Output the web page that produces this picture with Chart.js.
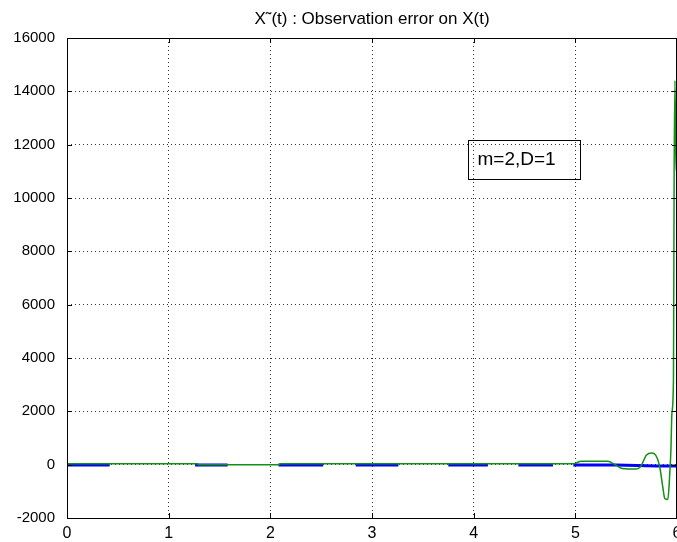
<!DOCTYPE html>
<html>
<head>
<meta charset="utf-8">
<script src="https://cdn.jsdelivr.net/npm/chart.js@4/dist/chart.umd.min.js"></script>
<style>
  html, body { margin: 0; padding: 0; background: #fff; }
  #wrap { width: 677px; height: 542px; }
</style>
</head>
<body>
<div id="wrap"><canvas id="err-chart" width="677" height="542"></canvas></div>
<script>
// values
const titleText = 'X\u02DC(t) : Observation error on X(t)';
const noteText = 'm=2,D=1';
const noteBox = { t0: 3.94, t1: 5.045, y0: 12170, y1: 10710 };

const xTicks = [0, 1, 2, 3, 4, 5, 6];
const yTicks = [-2000, 0, 2000, 4000, 6000, 8000, 10000, 12000, 14000, 16000];

// green curve: observation error
const greenT = [0, 1.28, 1.30, 2.08, 2.10, 4.98, 5.06, 5.32, 5.39, 5.46, 5.60, 5.64, 5.70, 5.75, 5.79, 5.83,
                5.86, 5.88, 5.91, 5.925, 5.94, 5.95, 5.965, 5.972, 5.98, 5.99, 6.0];
const greenY = [30, 30, 0, 0, 30, 30, 130, 130, 0, -140, -160, -80, 360, 440, 360, -80,
                -830, -1270, -1310, -600, 540, 1930, 3170, 11000, 14400, 11000, 11000];

// blue curve: shown in pieces near zero (null = gap)
const blueT = [0, 0.42, 0.43, 1.26, 1.58, 1.59, 2.08, 2.52, 2.53, 2.84, 3.26, 3.27, 3.75, 4.14, 4.15,
               4.44, 4.78, 4.79, 4.98, 5.4, 5.8, 6.0];
const blueY = [-15, -15, null, -15, -15, null, -15, -15, null, -15, -15, null, -15, -15, null,
               -15, -15, null, -15, -15, -50, -50];

function toPoints(ts, ys) {
    return ts.map((t, i) => ({ x: t, y: ys[i] }));
}

const fontFamily = '"Liberation Sans", Arial, sans-serif';

// box, inward ticks, title and the note
const framePlugin = {
    id: 'frame',
    afterDraw(chart) {
        const ctx = chart.ctx;
        const a = chart.chartArea;
        const xs = chart.scales.x;
        const ys = chart.scales.y;
        ctx.save();
        ctx.strokeStyle = '#000';
        ctx.lineWidth = 1;
        ctx.beginPath();
        xTicks.forEach(v => {
            const px = Math.round(xs.getPixelForValue(v)) + 0.5;
            ctx.moveTo(px, a.bottom); ctx.lineTo(px, a.bottom - 5);
            ctx.moveTo(px, a.top); ctx.lineTo(px, a.top + 5);
        });
        yTicks.forEach(v => {
            const py = Math.round(ys.getPixelForValue(v)) + 0.5;
            ctx.moveTo(a.left, py); ctx.lineTo(a.left + 5, py);
            ctx.moveTo(a.right, py); ctx.lineTo(a.right - 5, py);
        });
        ctx.stroke();
        ctx.strokeRect(Math.round(a.left) + 0.5, Math.round(a.top) + 0.5,
                       Math.round(a.right - a.left) - 1, Math.round(a.bottom - a.top));

        // note box
        const bx0 = Math.round(xs.getPixelForValue(noteBox.t0)) + 0.5;
        const bx1 = Math.round(xs.getPixelForValue(noteBox.t1)) + 0.5;
        const by0 = Math.round(ys.getPixelForValue(noteBox.y0)) + 0.5;
        const by1 = Math.round(ys.getPixelForValue(noteBox.y1)) + 0.5;
        ctx.strokeRect(bx0, by0, bx1 - bx0, by1 - by0);
        ctx.fillStyle = '#000';
        ctx.font = '19px ' + fontFamily;
        ctx.textAlign = 'left';
        ctx.textBaseline = 'middle';
        ctx.fillText(noteText, bx0 + 9, (by0 + by1) / 2);

        // title over the plot area
        ctx.textAlign = 'center';
        ctx.textBaseline = 'middle';
        ctx.font = '17px ' + fontFamily;
        ctx.fillText(titleText, (a.left + a.right) / 2, 19);
        ctx.restore();
    }
};

const ctx = document.getElementById('err-chart').getContext('2d');
const errChart = new Chart(ctx, {
    type: 'line',
    data: {
        datasets: [{
            label: 'green',
            data: toPoints(greenT, greenY),
            borderColor: '#119011',
            borderWidth: 1.5,
            pointRadius: 0,
            cubicInterpolationMode: 'monotone',
            order: 0,
        }, {
            label: 'blue',
            data: toPoints(blueT, blueY),
            borderColor: '#0000ff',
            borderWidth: 3,
            pointRadius: 0,
            spanGaps: false,
            order: 1,
        }],
    },
    options: {
        responsive: false,
        animation: false,
        layout: { padding: { top: 38, left: 0, right: 0, bottom: 0 } },
        plugins: {
            legend: { display: false },
            title: { display: false },
            tooltip: { enabled: false },
        },
        scales: {
            x: {
                type: 'linear',
                min: 0,
                max: 6,
                afterBuildTicks(scale) { scale.ticks = xTicks.map(v => ({ value: v })); },
                afterFit(scale) { scale.height = 24; scale.paddingLeft = 0; scale.paddingRight = 0; },
                ticks: { color: '#000', font: { family: fontFamily, size: 16 }, padding: 6, maxRotation: 0,
                         callback: v => String(v) },
                grid: { color: '#333', drawTicks: false, lineWidth: 1 },
                border: { display: false, dash: [1, 3] },
            },
            y: {
                min: -2000,
                max: 16000,
                afterBuildTicks(scale) { scale.ticks = yTicks.map(v => ({ value: v })); },
                afterFit(scale) { scale.width = 67; scale.paddingTop = 0; scale.paddingBottom = 0; },
                ticks: { color: '#000', font: { family: fontFamily, size: 15 }, padding: 12,
                         callback: v => String(v) },
                grid: { color: '#333', drawTicks: false, lineWidth: 1 },
                border: { display: false, dash: [1, 3] },
            },
        },
    },
    plugins: [framePlugin],
});
</script>
</body>
</html>
